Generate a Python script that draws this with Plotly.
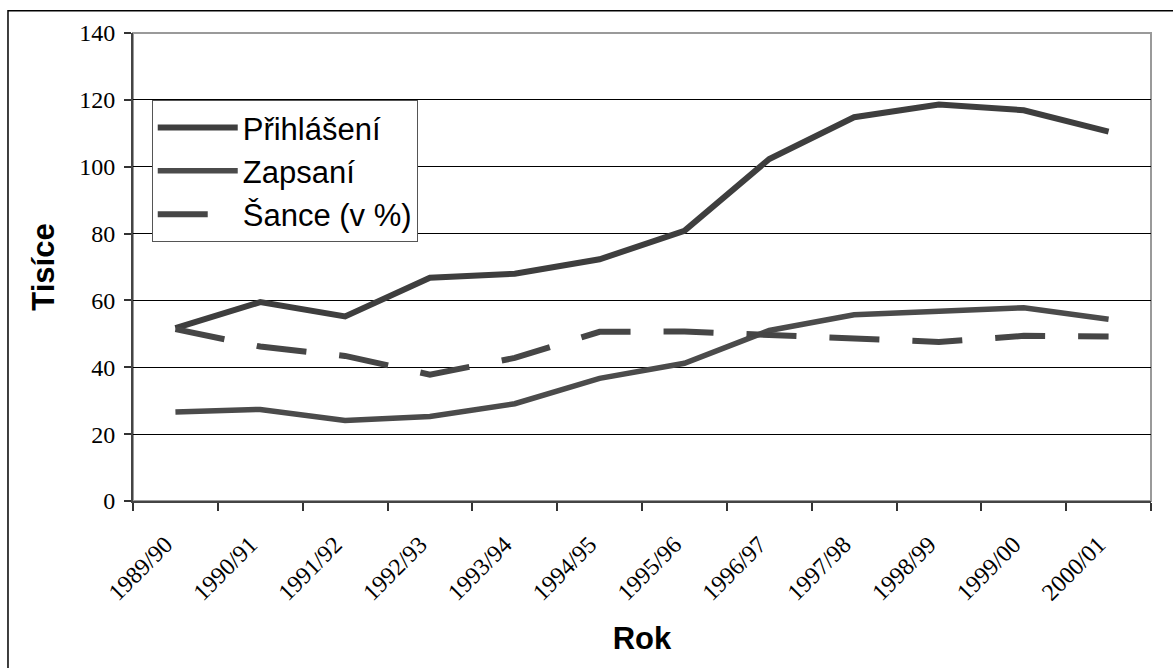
import plotly.graph_objects as go

# Academic years on the category axis
roky = ["1989/90", "1990/91", "1991/92", "1992/93", "1993/94", "1994/95",
        "1995/96", "1996/97", "1997/98", "1998/99", "1999/00", "2000/01"]

# Applicants and enrolled students (thousands), chance of admission (%)
prihlaseni = [51.7, 59.5, 55.2, 66.8, 68.0, 72.3, 80.8, 102.3, 114.8, 118.6, 116.9, 110.5]
zapsani = [26.6, 27.4, 24.1, 25.3, 29.1, 36.7, 41.2, 51.0, 55.7, 56.6, 57.8, 54.4]
sance = [51.4, 46.2, 43.4, 37.8, 42.8, 50.6, 50.7, 49.6, 48.5, 47.6, 49.4, 49.2]

fig = go.Figure()
fig.add_trace(go.Scatter(x=roky, y=prihlaseni, mode="lines", name="Přihlášení",
                         legendgroup="a",
                         line=dict(color="#3e3e3e", width=6)))
fig.add_trace(go.Scatter(x=roky, y=zapsani, mode="lines", name="Zapsaní",
                         legendgroup="b",
                         line=dict(color="#4b4b4b", width=5.5)))
fig.add_trace(go.Scatter(x=roky, y=sance, mode="lines", name="Šance (v %)",
                         legendgroup="c",
                         line=dict(color="#464646", width=6, dash="50px,33px")))

serif = "Liberation Serif"
sans = "Liberation Sans"

fig.update_layout(
    width=1173, height=668,
    margin=dict(l=133, r=22, t=33, b=167, autoexpand=False),
    paper_bgcolor="white", plot_bgcolor="white",
    showlegend=True,
    legend=dict(
        x=0.0184, y=0.857, xanchor="left", yanchor="top",
        bgcolor="white", bordercolor="#555555", borderwidth=1,
        font=dict(family=sans, size=31, color="black"),
        itemwidth=80, tracegroupgap=0,
    ),
    xaxis=dict(
        type="category", range=[-0.5, 11.5],
        tickson="boundaries", ticks="outside", ticklen=8, tickwidth=1.5,
        tickcolor="#333333",
        tickangle=-45, tickfont=dict(family=serif, size=24, color="black"),
        ticklabelstandoff=18, ticklabelshift=-10,
        showline=True, linecolor="#444444", linewidth=2,
        showgrid=False, zeroline=False, automargin=False,
        title=dict(text="<b>Rok</b>", font=dict(family=sans, size=31, color="black"),
                   standoff=23),
    ),
    yaxis=dict(
        range=[0, 140], dtick=20, tick0=0,
        ticks="outside", ticklen=7, tickwidth=1.5, tickcolor="#333333",
        tickfont=dict(family=serif, size=24, color="black"),
        ticklabelstandoff=4,
        showline=True, linecolor="#444444", linewidth=2,
        showgrid=True, gridcolor="black", gridwidth=1,
        zeroline=False, automargin=False,
        title=dict(text="<b>Tisíce</b>", font=dict(family=sans, size=31, color="black"),
                   standoff=15),
    ),
    shapes=[
        # light frame around the plotting area
        dict(type="rect", xref="paper", yref="paper", x0=0, x1=1, y0=0, y1=1,
             line=dict(color="#9a9a9a", width=2), layer="below"),
        # outer chart border
        dict(type="rect", xref="paper", yref="paper",
             x0=-0.1228, x1=1.05, y0=-0.36, y1=1.0477,
             line=dict(color="black", width=1.5), layer="below"),
    ],
)

fig.write_html("out.html")
